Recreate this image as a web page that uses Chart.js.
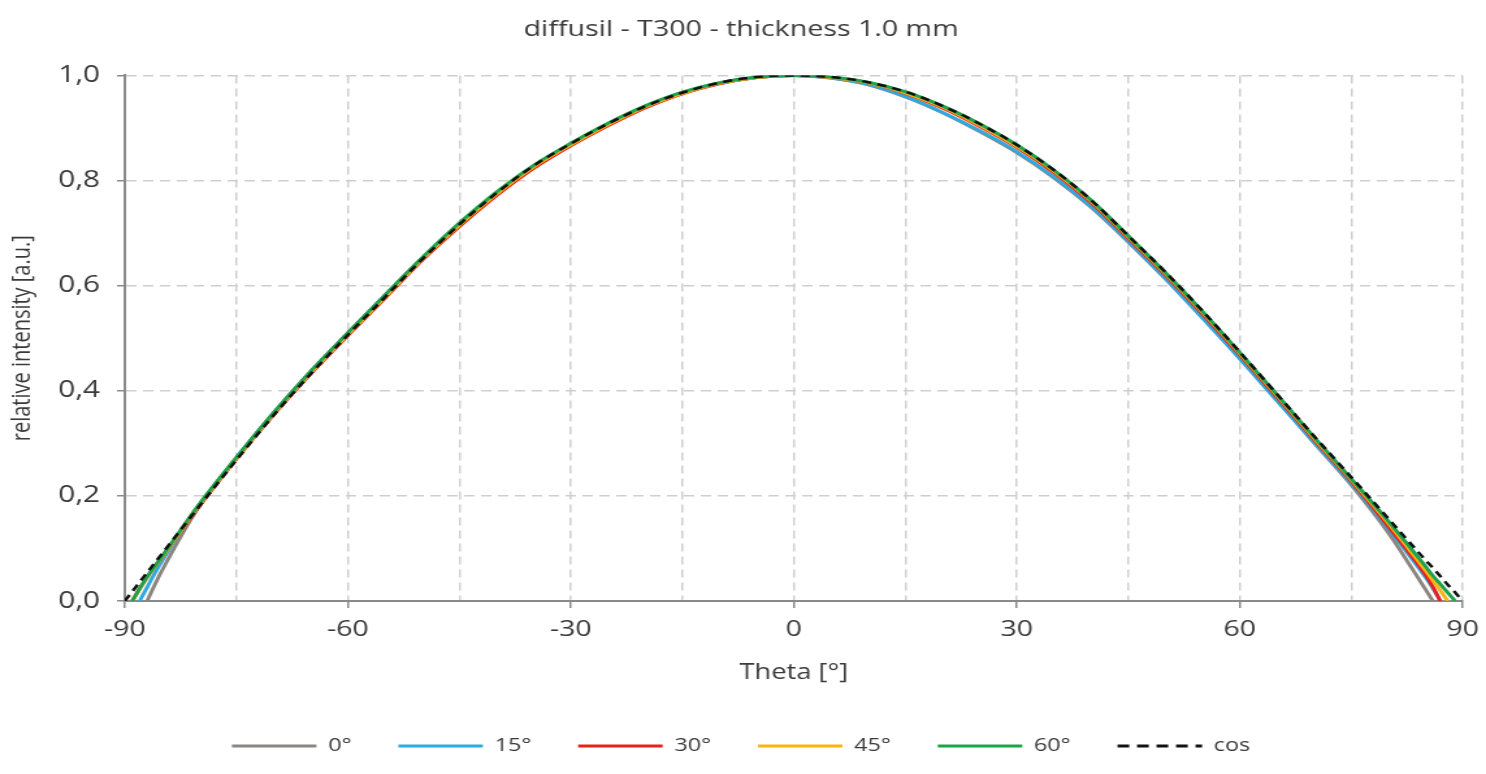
<!DOCTYPE html>
<html>
<head>
<meta charset="utf-8">
<title>diffusil - T300 - thickness 1.0 mm</title>
<script src="https://cdn.jsdelivr.net/npm/chart.js@4.4.1/dist/chart.umd.min.js"></script>
<style>
  html, body { margin: 0; padding: 0; background: #fff; overflow: hidden; }
  /* the original graphic is a horizontally stretched export, so the canvas is drawn narrow and scaled */
  #wrap { width: 1143px; height: 774px; transform: scaleX(1.3001); transform-origin: 0 0; }
</style>
</head>
<body>
<div id="wrap"><canvas id="chart" width="1143" height="774"></canvas></div>
<script>
// angles (deg) shared by every curve; null = curve has not started / already ended
const thetas = [-90, -89, -88, -87, -86, -85, -80, -75, -70, -65, -60, -55, -50, -45, -40, -35, -30, -25, -20, -15, -10, -5,
  0, 5, 10, 15, 20, 25, 30, 35, 40, 45, 50, 55, 60, 65, 70, 75, 80, 85, 86, 87, 88, 89, 90];

const seriesLabels = ['0°', '15°', '30°', '45°', '60°', 'cos'];

const deg0 = [null, null, null, 0, 0.03, 0.058, 0.18, 0.272, 0.358, 0.437, 0.510, 0.582, 0.652, 0.716, 0.774, 0.826, 0.868, 0.906, 0.939, 0.966, 0.985, 0.996,
  1.0, 0.995, 0.982, 0.959, 0.929, 0.893, 0.853, 0.805, 0.749, 0.683, 0.613, 0.539, 0.462, 0.382, 0.301, 0.221, 0.13, 0.022, 0, null, null, null, null];

const deg15 = [null, null, 0, 0.026, 0.052, 0.076, 0.182, 0.272, 0.357, 0.436, 0.509, 0.581, 0.651, 0.716, 0.775, 0.826, 0.868, 0.906, 0.940, 0.966, 0.985, 0.996,
  1.0, 0.995, 0.983, 0.960, 0.930, 0.895, 0.855, 0.807, 0.751, 0.685, 0.614, 0.538, 0.461, 0.381, 0.302, 0.224, 0.138, 0.045, 0.024, 0, null, null, null];

const deg30 = [null, 0, 0.023, 0.045, 0.065, 0.083, 0.18, 0.27, 0.354, 0.432, 0.505, 0.576, 0.648, 0.712, 0.771, 0.823, 0.866, 0.904, 0.938, 0.965, 0.984, 0.996,
  1.0, 0.996, 0.986, 0.966, 0.938, 0.903, 0.863, 0.815, 0.758, 0.690, 0.620, 0.546, 0.468, 0.388, 0.307, 0.228, 0.142, 0.05, 0.027, 0, null, null, null];

const deg45 = [null, 0, 0.023, 0.045, 0.065, 0.083, 0.182, 0.271, 0.356, 0.434, 0.507, 0.578, 0.650, 0.715, 0.774, 0.826, 0.868, 0.906, 0.940, 0.966, 0.985, 0.996,
  1.0, 0.996, 0.986, 0.967, 0.940, 0.905, 0.865, 0.818, 0.761, 0.693, 0.623, 0.549, 0.471, 0.391, 0.310, 0.231, 0.148, 0.058, 0.039, 0.02, 0, null, null];

const deg60 = [null, 0, 0.024, 0.046, 0.066, 0.085, 0.184, 0.273, 0.358, 0.437, 0.510, 0.582, 0.653, 0.719, 0.778, 0.829, 0.871, 0.909, 0.942, 0.968, 0.986, 0.997,
  1.0, 0.997, 0.987, 0.969, 0.942, 0.908, 0.868, 0.820, 0.763, 0.695, 0.625, 0.551, 0.473, 0.393, 0.312, 0.233, 0.152, 0.066, 0.048, 0.032, 0.016, 0, null];

const cosRef = [0, 0.018, 0.036, 0.054, 0.072, 0.09, 0.18, 0.268, 0.353, 0.432, 0.506, 0.578, 0.650, 0.716, 0.776, 0.828, 0.870, 0.908, 0.941, 0.967, 0.986, 0.997,
  1.0, 0.997, 0.987, 0.969, 0.942, 0.908, 0.868, 0.820, 0.763, 0.695, 0.626, 0.552, 0.474, 0.394, 0.314, 0.236, 0.157, 0.078, 0.063, 0.047, 0.031, 0.016, 0];

const xTicks = [-90, -60, -30, 0, 30, 60, 90];
const yTicks = [0, 0.2, 0.4, 0.6, 0.8, 1.0];

const FONT = "'Open Sans', 'Noto Sans', sans-serif";
const TEXT = '#3a3a3a';
const GRID = '#cfcfcf';
const AXIS = '#8a8a8a';

function toPoints(values) {
  return thetas.map((t, i) => ({ x: t, y: values[i] }));
}

function curve(label, values, color, order) {
  return {
    label,
    data: toPoints(values),
    borderColor: color,
    backgroundColor: color,
    borderWidth: 3,
    pointRadius: 0,
    cubicInterpolationMode: 'monotone',
    spanGaps: false,
    order
  };
}

const datasets = [
  curve(seriesLabels[0], deg0, '#8c8580', 6),
  curve(seriesLabels[1], deg15, '#2fa9e0', 5),
  curve(seriesLabels[2], deg30, '#e8201c', 4),
  curve(seriesLabels[3], deg45, '#f8b414', 3),
  curve(seriesLabels[4], deg60, '#1ea34c', 2),
  Object.assign(curve(seriesLabels[5], cosRef, '#111111', 1), { borderDash: [7, 5], borderWidth: 2.5 })
];

new Chart(document.getElementById('chart'), {
  type: 'line',
  data: { datasets },
  options: {
    responsive: false,
    animation: false,
    layout: { padding: { left: 15, right: 18, top: 0, bottom: 9 } },
    scales: {
      x: {
        type: 'linear',
        min: -90,
        max: 90,
        afterBuildTicks: scale => {
          // grid every 15 deg, labels only at xTicks
          const ticks = [];
          for (let v = -90; v <= 90; v += 15) ticks.push({ value: v });
          scale.ticks = ticks;
        },
        afterFit: scale => {
          scale.height = 100;
          scale.paddingLeft = 0;
          scale.paddingRight = 0;
        },
        grid: {
          color: GRID,
          lineWidth: 1.5,
          tickLength: 7,
          tickColor: ctx => xTicks.includes(ctx.tick && ctx.tick.value) ? AXIS : 'rgba(0,0,0,0)',
          tickWidth: 1.5
        },
        border: { display: true, color: AXIS, width: 2, dash: [8, 5] },
        ticks: {
          autoSkip: false,
          maxRotation: 0,
          padding: 9,
          color: TEXT,
          font: { family: FONT, size: 22 },
          callback: v => xTicks.includes(v) ? String(v) : ''
        },
        title: {
          display: true,
          text: 'Theta [°]',
          color: TEXT,
          font: { family: FONT, size: 21 },
          padding: { top: 4, bottom: 15 }
        }
      },
      y: {
        min: 0,
        max: 1,
        afterBuildTicks: scale => { scale.ticks = yTicks.map(v => ({ value: v })); },
        afterFit: scale => { scale.width = 81; },
        grid: {
          color: GRID,
          lineWidth: 1.5,
          tickLength: 6,
          tickColor: AXIS,
          tickWidth: 1.5
        },
        border: { display: true, color: AXIS, width: 2, dash: [8, 5] },
        ticks: {
          padding: 13,
          color: TEXT,
          font: { family: FONT, size: 23 },
          callback: v => v.toFixed(1).replace('.', ',')
        },
        title: {
          display: true,
          text: 'relative intensity [a.u.]',
          color: TEXT,
          font: { family: FONT, size: 20 },
          padding: { top: -10, bottom: 4 }
        }
      }
    },
    plugins: {
      title: {
        display: true,
        text: 'diffusil - T300 - thickness 1.0 mm',
        color: TEXT,
        font: { family: FONT, size: 22, weight: 'normal' },
        padding: { top: 17, bottom: 32 }
      },
      legend: {
        position: 'bottom',
        labels: {
          usePointStyle: true,
          pointStyle: 'line',
          pointStyleWidth: 65,
          boxHeight: 20,
          padding: 36,
          color: TEXT,
          font: { family: FONT, size: 18 },
          sort: (a, b) => a.datasetIndex - b.datasetIndex,
          generateLabels: chart => {
            const items = Chart.defaults.plugins.legend.labels.generateLabels(chart);
            items.forEach(item => {
              const ds = chart.data.datasets[item.datasetIndex];
              item.strokeStyle = ds.borderColor;
              item.lineWidth = 3;
              item.lineDash = ds.borderDash ? [9, 6] : [];
            });
            return items;
          }
        }
      },
      tooltip: { enabled: false }
    }
  }
});
</script>
</body>
</html>
